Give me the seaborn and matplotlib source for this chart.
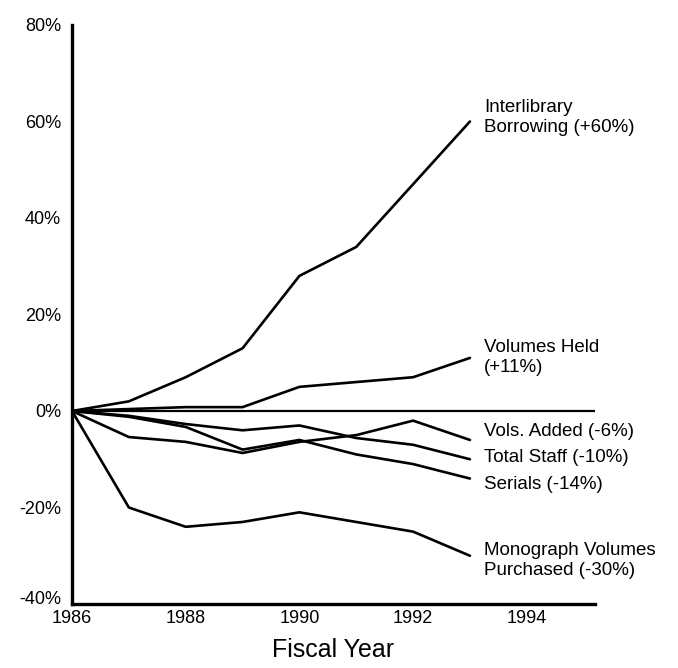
import pandas as pd
import matplotlib
matplotlib.use("Agg")
import matplotlib.pyplot as plt
import seaborn as sns

years = [1986, 1987, 1988, 1989, 1990, 1991, 1992, 1993]

interlibrary = [0, 2, 7, 13, 28, 34, 47, 60]
volumes_held = [0, 0.4, 0.8, 0.8, 5, 6, 7, 11]
vols_added = [0, -5.4, -6.4, -8.7, -6.4, -5, -2, -6]
total_staff = [0, -1, -2.7, -4, -3, -5.6, -7, -10]
serials = [0, -1.2, -3.3, -8, -6, -9, -11, -14]
monograph = [0, -20, -24, -23, -21, -23, -25, -30]

series_names = ["Interlibrary Borrowing", "Volumes Held", "Vols. Added",
                "Total Staff", "Serials", "Monograph Volumes Purchased"]
end_labels = ["Interlibrary\nBorrowing (+60%)", "Volumes Held\n(+11%)",
              "Vols. Added (-6%)", "Total Staff (-10%)", "Serials (-14%)",
              "Monograph Volumes\nPurchased (-30%)"]
label_y = [60.8, 11.1, -4.3, -9.7, -15.3, -31]

y_ticks = [-40, -20, 0, 20, 40, 60, 80]
y_tick_labels = ["-40%", "-20%", "0%", "20%", "40%", "60%", "80%"]
x_ticks = [1986, 1988, 1990, 1992, 1994]

values = [interlibrary, volumes_held, vols_added, total_staff, serials, monograph]
df = pd.DataFrame({
    "year": years * len(series_names),
    "change": [v for s in values for v in s],
    "series": [n for n in series_names for _ in years],
})

sns.set_style("white")
plt.rcParams["font.family"] = ["Liberation Sans", "DejaVu Sans"]
plt.rcParams["text.color"] = "black"
plt.rcParams["axes.labelcolor"] = "black"
plt.rcParams["xtick.color"] = "black"
plt.rcParams["ytick.color"] = "black"

fig = plt.figure(figsize=(6.78, 6.68), dpi=100)
ax = fig.add_axes([0.1062, 0.0958, 0.7714, 0.8668])

sns.lineplot(data=df, x="year", y="change", units="series", estimator=None,
             color="black", linewidth=1.9, ax=ax, legend=False)
ax.axhline(0, color="black", linewidth=1.6)

for txt, yy in zip(end_labels, label_y):
    ax.text(1993.25, yy, txt, fontsize=13.5, va="center", ha="left",
            linespacing=1.2, color="black")

ax.set_xlim(1986, 1995.2)
ax.set_ylim(-40, 80)
ax.set_xticks(x_ticks)
ax.set_xticklabels([str(x) for x in x_ticks], fontsize=13)
ax.set_yticks(y_ticks)
ax.set_yticklabels(y_tick_labels, fontsize=13)
ax.tick_params(axis="y", length=0, pad=8)
ax.tick_params(axis="x", length=0, pad=4)
ax.get_yticklabels()[0].set_va("baseline")
ax.set_xlabel("Fiscal Year", fontsize=18, labelpad=8)
ax.set_ylabel("")

for side in ["top", "right"]:
    ax.spines[side].set_visible(False)
for side in ["left", "bottom"]:
    ax.spines[side].set_color("black")
    ax.spines[side].set_linewidth(2.4)

fig.savefig("out.png", dpi=100)
